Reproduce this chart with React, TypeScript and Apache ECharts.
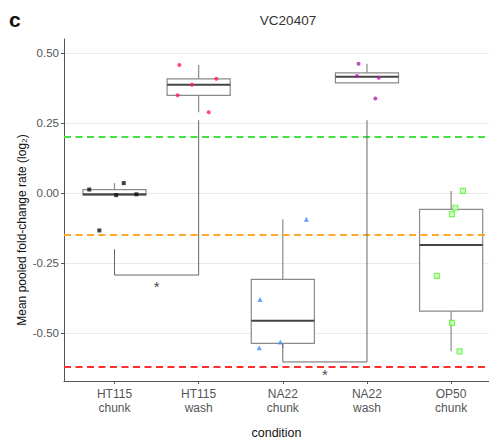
import React, { useEffect, useRef } from "react";
import * as echarts from "echarts";

// ---- data ----
const categories = ["HT115\nchunk", "HT115\nwash", "NA22\nchunk", "NA22\nwash", "OP50\nchunk"];
const yTicks = [-0.5, -0.25, 0, 0.25, 0.5];

const ht115Chunk = [0.013, 0.036, -0.007, -0.004, -0.133];
const ht115ChunkJitter = [-0.3, 0.11, 0.02, 0.26, -0.18];
const ht115Wash = [0.457, 0.408, 0.387, 0.349, 0.289];
const ht115WashJitter = [-0.23, 0.21, -0.08, -0.25, 0.12];
const na22Chunk = [-0.093, -0.379, -0.551, -0.531];
const na22ChunkJitter = [0.28, -0.27, -0.28, -0.03];
const na22Wash = [0.462, 0.418, 0.412, 0.338];
const na22WashJitter = [-0.1, -0.12, 0.14, 0.1];
const op50Chunk = [0.008, -0.052, -0.075, -0.295, -0.463, -0.564];
const op50ChunkJitter = [0.14, 0.05, 0.01, -0.17, 0.01, 0.1];

const thresholdValues = [0.2, -0.153, -0.62];
const thresholdColors = ["#44e044", "#ffa82e", "#ff2d2d"];

// significance brackets: from category, to category
const bracketFrom = [1, 3];
const bracketTo = [2, 4];
const bracketLeftTop = [-0.2, -0.539];
const bracketRightTop = [0.26, 0.26];
const bracketBottom = [-0.292, -0.602];
const starValue = [-0.322, -0.636];

function quantile(sorted: number[], p: number) {
  const h = (sorted.length - 1) * p;
  const lo = Math.floor(h);
  const hi = Math.ceil(h);
  return sorted[lo] + (h - lo) * (sorted[hi] - sorted[lo]);
}

function boxStats(pos: number, vals: number[]) {
  const s = [...vals].sort((a, b) => a - b);
  const q1 = quantile(s, 0.25);
  const med = quantile(s, 0.5);
  const q3 = quantile(s, 0.75);
  const iqr = q3 - q1;
  const inside = s.filter((v) => v >= q1 - 1.5 * iqr && v <= q3 + 1.5 * iqr);
  return [pos, inside[0], q1, med, q3, inside[inside.length - 1]];
}

const groups = [ht115Chunk, ht115Wash, na22Chunk, na22Wash, op50Chunk];
const jitters = [ht115ChunkJitter, ht115WashJitter, na22ChunkJitter, na22WashJitter, op50ChunkJitter];

export default function App() {
  const ref = useRef<HTMLDivElement>(null);
  useEffect(() => {
    if (!ref.current) return;
    document.body.style.margin = "0";
    const chart = echarts.init(ref.current, null, { renderer: "svg" });

    const boxData = groups.map((g, i) => boxStats(i + 1, g));
    const pts = (i: number) => groups[i].map((v, k) => [i + 1 + jitters[i][k], v]);

    const pointStyles = [
      { symbol: "rect", symbolSize: 4, itemStyle: { color: "#111111" } },
      { symbol: "circle", symbolSize: 4, itemStyle: { color: "#ff1f4f" } },
      { symbol: "triangle", symbolSize: 5, itemStyle: { color: "#3b8cff" } },
      { symbol: "circle", symbolSize: 4, itemStyle: { color: "#b21bb8" } },
      { symbol: "rect", symbolSize: 5, itemStyle: { color: "#c6ffb0", borderColor: "#5ef03a", borderWidth: 1.2 } },
    ];

    const bracketSeries = bracketFrom.map((f, i) => ({
      type: "line",
      silent: true,
      symbol: "none",
      z: 5,
      lineStyle: { color: "#666666", width: 1 },
      data: [
        [f, bracketLeftTop[i]],
        [f, bracketBottom[i]],
        [bracketTo[i], bracketBottom[i]],
        [bracketTo[i], bracketRightTop[i]],
      ],
    }));

    chart.setOption({
      animation: false,
      textStyle: { fontFamily: "Liberation Sans, Arial, sans-serif" },
      grid: { left: 64, right: 0, top: 39, bottom: 63 },
      title: {
        text: "VC20407",
        left: 283,
        textAlign: "center",
        top: 8,
        textStyle: { fontSize: 13.5, fontWeight: "normal", color: "#333333" },
      },
      graphic: [
        {
          type: "text",
          left: 9,
          top: 9,
          style: { text: "c", font: "bold 21px Liberation Sans, Arial, sans-serif", fill: "#111111" },
        },
        {
          type: "text",
          x: 22,
          y: 230,
          rotation: Math.PI / 2,
          style: {
            text: "Mean pooled fold-change rate (log\u2082)",
            font: "12px Liberation Sans, Arial, sans-serif",
            fill: "#111111",
            align: "center",
            verticalAlign: "middle",
          },
        },
      ],
      xAxis: {
        type: "value",
        min: 0.4,
        max: 5.45,
        name: "condition",
        nameLocation: "middle",
        nameGap: 45,
        nameTextStyle: { fontSize: 12.5, color: "#111111" },
        splitLine: { show: false },
        axisLine: { show: true, onZero: false, lineStyle: { color: "#555555", width: 1 } },
        axisTick: { show: true, length: 3, customValues: [1, 2, 3, 4, 5], lineStyle: { color: "#555555" } },
        axisLabel: {
          customValues: [1, 2, 3, 4, 5],
          formatter: (v: number) => categories[Math.round(v) - 1] ?? "",
          color: "#555555",
          fontSize: 12,
          lineHeight: 14,
          margin: 6,
        },
      },
      yAxis: {
        type: "value",
        min: -0.67,
        max: 0.55,
        splitLine: { show: true, lineStyle: { color: "#ebebeb", width: 1 } },
        axisLine: { show: true, onZero: false, lineStyle: { color: "#555555", width: 1 } },
        axisTick: { show: true, length: 3, customValues: yTicks, lineStyle: { color: "#555555" } },
        axisLabel: {
          customValues: yTicks,
          formatter: (v: number) => v.toFixed(2),
          color: "#555555",
          fontSize: 11.5,
          margin: 5,
        },
      },
      series: [
        {
          type: "custom",
          z: 2,
          data: boxData,
          renderItem: (params: any, api: any) => {
            const x = api.value(0);
            const lw = api.value(1);
            const q1 = api.value(2);
            const md = api.value(3);
            const q3 = api.value(4);
            const uw = api.value(5);
            const half = 0.375;
            const pL = api.coord([x - half, q3]);
            const pR = api.coord([x + half, q1]);
            const pMedL = api.coord([x - half, md]);
            const pMedR = api.coord([x + half, md]);
            const pUW = api.coord([x, uw]);
            const pQ3 = api.coord([x, q3]);
            const pQ1 = api.coord([x, q1]);
            const pLW = api.coord([x, lw]);
            const stroke = "#8a8a8a";
            return {
              type: "group",
              children: [
                { type: "line", shape: { x1: pUW[0], y1: pUW[1], x2: pQ3[0], y2: pQ3[1] }, style: { stroke, lineWidth: 1.2 } },
                { type: "line", shape: { x1: pQ1[0], y1: pQ1[1], x2: pLW[0], y2: pLW[1] }, style: { stroke, lineWidth: 1.2 } },
                {
                  type: "rect",
                  shape: { x: pL[0], y: pL[1], width: pR[0] - pL[0], height: pR[1] - pL[1] },
                  style: { fill: "#ffffff", stroke, lineWidth: 1.2 },
                },
                {
                  type: "line",
                  shape: { x1: pMedL[0], y1: pMedL[1], x2: pMedR[0], y2: pMedR[1] },
                  style: { stroke: "#444444", lineWidth: 2 },
                },
              ],
            };
          },
        },
        {
          type: "line",
          data: [],
          z: 3,
          markLine: {
            silent: true,
            symbol: "none",
            label: { show: false },
            data: thresholdValues.map((v, i) => ({
              yAxis: v,
              lineStyle: { color: thresholdColors[i], type: [7, 4.5], width: 2 },
            })),
          },
        },
        ...groups.map((_, i) => ({
          type: "scatter",
          z: 4,
          data: pts(i),
          ...pointStyles[i],
        })),
        ...bracketSeries,
        {
          type: "scatter",
          z: 6,
          symbolSize: 0,
          data: bracketFrom.map((f, i) => [(f + bracketTo[i]) / 2, starValue[i]]),
          label: {
            show: true,
            formatter: "*",
            position: "inside",
            offset: [0, 3],
            color: "#111111",
            fontSize: 15,
          },
        },
      ],
    });
    return () => chart.dispose();
  }, []);
  return <div ref={ref} style={{ width: 489, height: 444 }} />;
}
